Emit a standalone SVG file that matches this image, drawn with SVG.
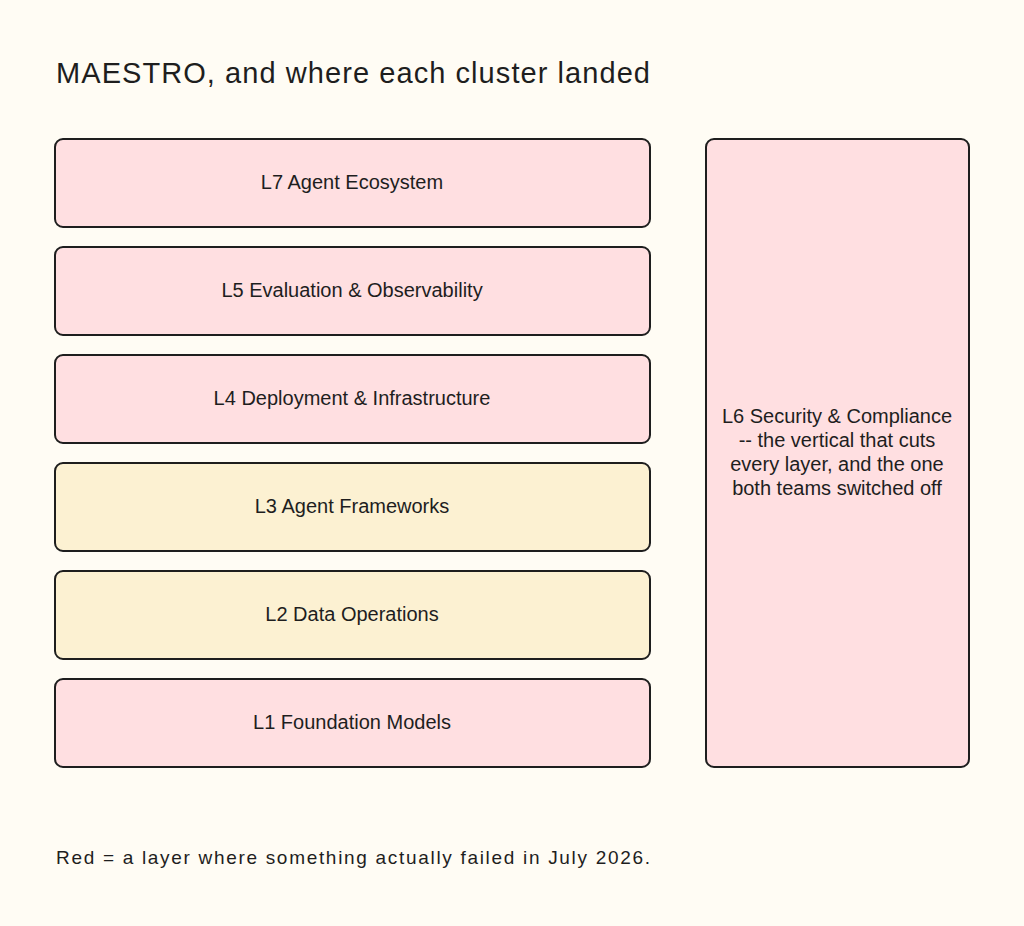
<svg xmlns="http://www.w3.org/2000/svg" width="1024" height="926" viewBox="0 0 1024 926">
<style>
.b{stroke:#1e1e1e;stroke-width:2}
.r{fill:#ffdfe1}
.y{fill:#fcf1d2}
text{font-family:"Comic Sans MS","Liberation Sans",sans-serif;fill:#1e1e1e}
.l{font-size:20px;text-anchor:middle}
</style>
<rect width="1024" height="926" fill="#fffcf4"/>
<text x="56" y="83" font-size="29" textLength="594" lengthAdjust="spacing">MAESTRO, and where each cluster landed</text>
<g id="L7"><rect class="b r" x="55" y="139" width="595" height="88" rx="8"/><text class="l" x="352" y="189">L7 Agent Ecosystem</text></g>
<g id="L5"><rect class="b r" x="55" y="247" width="595" height="88" rx="8"/><text class="l" x="352" y="297">L5 Evaluation &amp; Observability</text></g>
<g id="L4"><rect class="b r" x="55" y="355" width="595" height="88" rx="8"/><text class="l" x="352" y="405">L4 Deployment &amp; Infrastructure</text></g>
<g id="L3"><rect class="b y" x="55" y="463" width="595" height="88" rx="8"/><text class="l" x="352" y="513">L3 Agent Frameworks</text></g>
<g id="L2"><rect class="b y" x="55" y="571" width="595" height="88" rx="8"/><text class="l" x="352" y="621">L2 Data Operations</text></g>
<g id="L1"><rect class="b r" x="55" y="679" width="595" height="88" rx="8"/><text class="l" x="352" y="729">L1 Foundation Models</text></g>
<g id="L6"><rect class="b r" x="706" y="139" width="263" height="628" rx="8"/>
<text class="l" x="837" y="423">L6 Security &amp; Compliance</text>
<text class="l" x="837" y="447">-- the vertical that cuts</text>
<text class="l" x="837" y="471">every layer, and the one</text>
<text class="l" x="837" y="495">both teams switched off</text></g>
<g id="connectors"/>
<text x="56" y="864" font-size="19" textLength="594" lengthAdjust="spacing">Red = a layer where something actually failed in July 2026.</text>
</svg>
